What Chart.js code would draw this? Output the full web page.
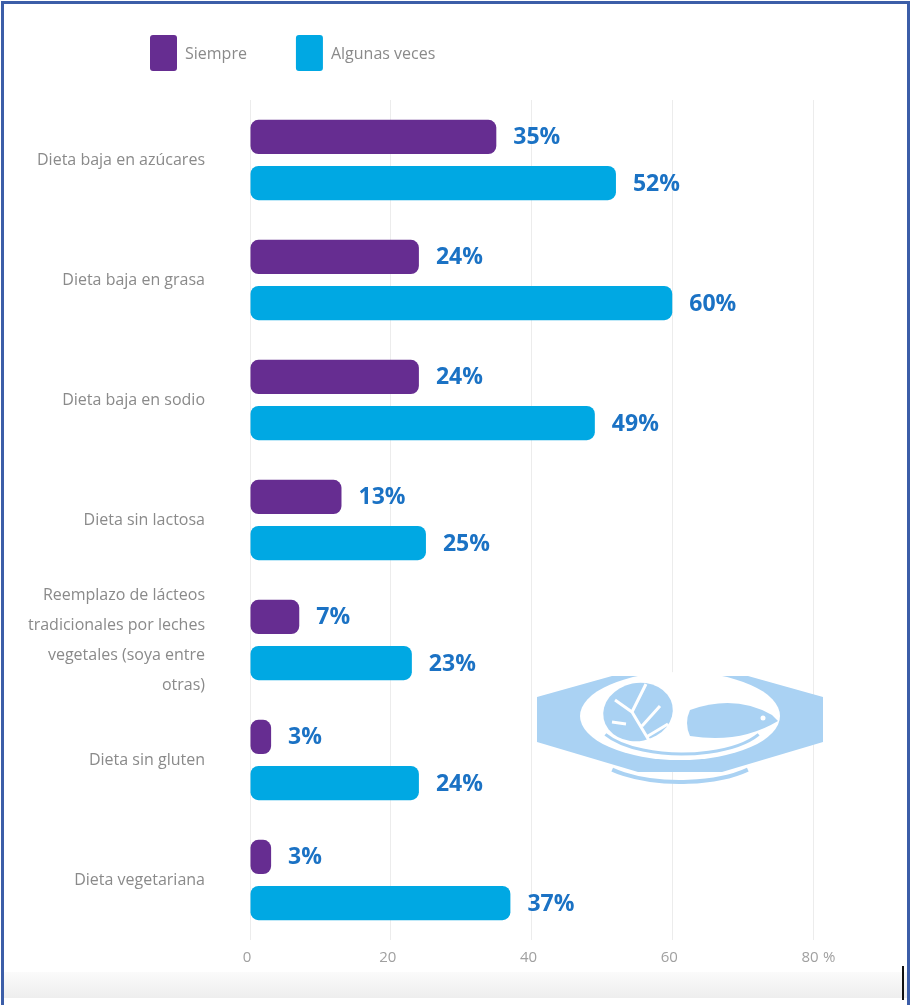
<!DOCTYPE html>
<html>
<head>
<meta charset="utf-8">
<title>Dietas</title>
<script src="https://cdn.jsdelivr.net/npm/chart.js@4.4.0/dist/chart.umd.min.js"></script>
<style>
  html, body { margin: 0; padding: 0; background: #fff; }
  #wrap { position: relative; width: 911px; height: 1005px; overflow: hidden; }
  #wrap canvas { position: absolute; left: 0; top: 0; }
  .foot { position: absolute; left: 4px; right: 4px; top: 972px; height: 26px;
          background: linear-gradient(#fbfbfb, #eeeeee); }
  .frame { position: absolute; left: 1px; top: 1px; width: 903px; height: 1010px;
           border: 3px solid #3c5ea8; border-bottom: none; pointer-events: none; }
  .caret { position: absolute; left: 902px; top: 966px; width: 2px; height: 34px; background: #111; }
</style>
</head>
<body>
<div id="wrap">
  <div class="foot"></div>
  <canvas id="chart" width="911" height="1005"></canvas>
  <div class="frame"></div>
  <div class="caret"></div>
</div>
<script>
// Categories (multi-line label given as an array of lines)
const categories = [
  'Dieta baja en azúcares',
  'Dieta baja en grasa',
  'Dieta baja en sodio',
  'Dieta sin lactosa',
  ['Reemplazo de lácteos', 'tradicionales por leches', 'vegetales (soya entre', 'otras)'],
  'Dieta sin gluten',
  'Dieta vegetariana'
];

// Share of respondents (%)
const siempre = [35, 24, 24, 13, 7, 3, 3];
const algunasVeces = [52, 60, 49, 25, 23, 24, 37];

// Horizontal axis ticks
const xTicks = [0, 20, 40, 60, 80];
const xUnit = '%';

const PURPLE = '#662d91';
const CYAN = '#00a8e3';
const VALUE_BLUE = '#1b72c4';

function roundRectPath(ctx, x, y, w, h, r) {
  ctx.beginPath();
  ctx.moveTo(x + r, y);
  ctx.lineTo(x + w - r, y);
  ctx.quadraticCurveTo(x + w, y, x + w, y + r);
  ctx.lineTo(x + w, y + h - r);
  ctx.quadraticCurveTo(x + w, y + h, x + w - r, y + h);
  ctx.lineTo(x + r, y + h);
  ctx.quadraticCurveTo(x, y + h, x, y + h - r);
  ctx.lineTo(x, y + r);
  ctx.quadraticCurveTo(x, y, x + r, y);
  ctx.closePath();
}

// Legend row drawn at the top left
const legendRow = {
  id: 'legendRow',
  afterDraw(chart, args, o) {
    const { ctx } = chart;
    let x = o.x;
    ctx.save();
    ctx.font = `${o.size}px ${o.family}`;
    ctx.textBaseline = 'middle';
    ctx.textAlign = 'left';
    chart.data.datasets.forEach(ds => {
      ctx.fillStyle = ds.backgroundColor;
      roundRectPath(ctx, x, o.y, o.boxW, o.boxH, 3);
      ctx.fill();
      ctx.fillStyle = o.color;
      ctx.fillText(ds.label, x + o.boxW + o.gap, o.y + o.boxH / 2 + 1);
      x += o.boxW + o.gap + ctx.measureText(ds.label).width + o.spacing;
    });
    ctx.restore();
  }
};

// Value labels at the end of each bar
const valueLabels = {
  id: 'valueLabels',
  afterDatasetsDraw(chart, args, o) {
    const { ctx } = chart;
    ctx.save();
    ctx.font = o.font;
    ctx.fillStyle = o.color;
    ctx.textBaseline = 'middle';
    ctx.textAlign = 'left';
    chart.data.datasets.forEach((ds, di) => {
      chart.getDatasetMeta(di).data.forEach((bar, i) => {
        ctx.fillText(ds.data[i] + '%', bar.x + o.offset, bar.y + 1);
      });
    });
    ctx.restore();
  }
};

// Unit sign next to the last tick of the value axis
const axisUnit = {
  id: 'axisUnit',
  afterDraw(chart, args, o) {
    const sx = chart.scales.x;
    const last = xTicks[xTicks.length - 1];
    const { ctx } = chart;
    ctx.save();
    ctx.font = o.font;
    ctx.fillStyle = o.color;
    ctx.textBaseline = 'middle';
    ctx.textAlign = 'left';
    ctx.fillText(xUnit, sx.getPixelForValue(last) + o.dx, o.y);
    ctx.restore();
  }
};

// Light-blue plate emblem behind the bars
const plateEmblem = {
  id: 'plateEmblem',
  beforeDatasetsDraw(chart, args, o) {
    const { ctx } = chart;
    const c = o.color;
    ctx.save();
    // band
    ctx.fillStyle = c;
    ctx.beginPath();
    ctx.moveTo(537, 697);
    ctx.lineTo(612, 676);
    ctx.lineTo(748, 676);
    ctx.lineTo(823, 697);
    ctx.lineTo(823, 742);
    ctx.lineTo(722, 772);
    ctx.lineTo(638, 772);
    ctx.lineTo(537, 742);
    ctx.closePath();
    ctx.fill();
    // plate
    ctx.fillStyle = '#ffffff';
    ctx.beginPath();
    ctx.ellipse(680, 716, 100, 44, 0, 0, Math.PI * 2);
    ctx.fill();
    // inner rim
    ctx.strokeStyle = c;
    ctx.lineWidth = 3;
    ctx.beginPath();
    ctx.ellipse(682, 718, 86, 36, 0, 0.15 * Math.PI, 0.85 * Math.PI);
    ctx.stroke();
    // lower rim
    ctx.lineWidth = 4;
    ctx.beginPath();
    ctx.ellipse(680, 748, 88, 34, 0, 0.22 * Math.PI, 0.78 * Math.PI);
    ctx.stroke();
    // lettuce
    ctx.fillStyle = c;
    ctx.beginPath();
    ctx.ellipse(638, 712, 35, 29, -0.2, 0, Math.PI * 2);
    ctx.fill();
    ctx.strokeStyle = '#ffffff';
    ctx.lineWidth = 3;
    ctx.beginPath();
    ctx.moveTo(646, 684); ctx.lineTo(632, 712); ctx.lineTo(650, 742);
    ctx.moveTo(632, 712); ctx.lineTo(615, 700);
    ctx.moveTo(626, 724); ctx.lineTo(612, 722);
    ctx.moveTo(642, 726); ctx.lineTo(660, 706);
    ctx.moveTo(648, 736); ctx.lineTo(668, 724);
    ctx.stroke();
    // fish
    ctx.fillStyle = c;
    ctx.beginPath();
    ctx.moveTo(690, 710);
    ctx.quadraticCurveTo(735, 694, 772, 715);
    ctx.lineTo(778, 721);
    ctx.quadraticCurveTo(740, 744, 690, 736);
    ctx.quadraticCurveTo(684, 723, 690, 710);
    ctx.closePath();
    ctx.fill();
    ctx.fillStyle = '#ffffff';
    ctx.beginPath();
    ctx.arc(763, 718, 2.5, 0, Math.PI * 2);
    ctx.fill();
    ctx.restore();
  }
};

const ctx = document.getElementById('chart').getContext('2d');
new Chart(ctx, {
  type: 'bar',
  data: {
    labels: categories,
    datasets: [
      { label: 'Siempre', data: siempre, backgroundColor: PURPLE },
      { label: 'Algunas veces', data: algunasVeces, backgroundColor: CYAN }
    ]
  },
  options: {
    indexAxis: 'y',
    responsive: false,
    animation: false,
    layout: { padding: { top: 100, right: 98, bottom: 0, left: 0 } },
    datasets: {
      bar: {
        categoryPercentage: 0.77,
        barPercentage: 0.74,
        borderRadius: 8,
        borderSkipped: false
      }
    },
    plugins: {
      legend: { display: false },
      tooltip: { enabled: false },
      legendRow: { x: 150, y: 35, boxW: 27, boxH: 36, gap: 8, spacing: 49,
                   size: 16, family: '"Open Sans"', color: '#8a8a8a' },
      valueLabels: { offset: 17, font: 'bold 23px "Open Sans"', color: VALUE_BLUE },
      axisUnit: { dx: 10, y: 958, font: '15px "Open Sans"', color: '#a0a0a0' },
      plateEmblem: { color: '#aad2f3' }
    },
    scales: {
      x: {
        min: 0,
        max: 80,
        afterBuildTicks: s => { s.ticks = xTicks.map(v => ({ value: v })); },
        afterFit: s => { s.height = 65; },
        ticks: {
          color: '#a0a0a0',
          font: { family: '"Open Sans"', size: 15 },
          padding: 9,
          labelOffset: -3
        },
        grid: { color: '#ececec', drawTicks: false },
        border: { display: false }
      },
      y: {
        afterFit: s => { s.width = 250; },
        grid: { display: false },
        border: { display: false },
        ticks: {
          autoSkip: false,
          color: '#8a8a8a',
          font: { family: '"Open Sans"', size: 16, lineHeight: 1.875 },
          padding: 37
        }
      }
    }
  },
  plugins: [plateEmblem, valueLabels, legendRow, axisUnit]
});
</script>
</body>
</html>
